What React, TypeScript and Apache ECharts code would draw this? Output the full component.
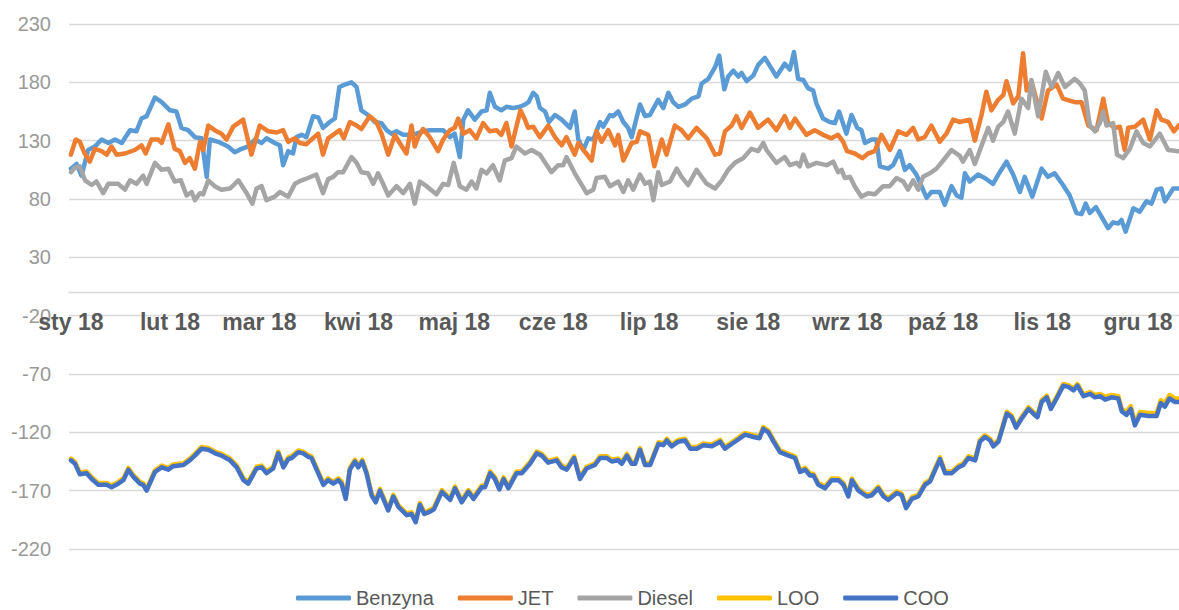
import React, { useEffect, useRef } from "react";
import * as echarts from "echarts";

// x values are days counted from 1 Jan 2018 (day 0)
const monthDays = [0, 31, 59, 90, 120, 151, 181, 212, 243, 273, 304, 334];
const monthLabels = ["sty 18", "lut 18", "mar 18", "kwi 18", "maj 18", "cze 18", "lip 18", "sie 18", "wrz 18", "paź 18", "lis 18", "gru 18"];

const yTicks = [230, 180, 130, 80, 30, -20, -70, -120, -170, -220];

const benzyna: [number, number][] = [
  [0,106],[1.8,110],[3.3,100],[5.4,122],[7.5,125],[9.6,131],[11.7,128],[13.8,131],[15.9,128],[18.5,139],[20.5,138],[22.1,149],[23.7,151],[26.3,167],[28.4,163],[31,156],[33,155],[34.6,141],[36.7,139],[38.8,133],[40.9,132],[42.5,99],[43.5,131],[46.1,129],[49.2,125],[51.3,120],[53.4,123],[55.5,125],[57.6,131],[59.7,128],[61.2,132],[63.8,128],[65.4,126],[66.4,109],[68,121],[69.5,119],[70.6,133],[72.2,135],[73.7,133],[75.8,151],[77.4,150],[78.9,141],[81,146],[82.6,149],[84,176],[85.7,178],[87.8,180],[89.4,176],[90.9,156],[93,152],[95.1,146],[97.2,145],[98.8,139],[100.3,136],[101.9,138],[104,135],[106.1,135],[108.1,136],[110.2,138],[112.3,139],[114.4,139],[116.5,139],[118.6,133],[120.1,136],[121.7,116],[122.8,148],[124.3,156],[126.4,148],[128.5,155],[130.1,156],[131.1,171],[132.7,159],[134.7,156],[136.3,159],[138.4,158],[140.5,159],[142.1,161],[143.2,163],[144.7,171],[145.8,168],[146.8,158],[148.4,155],[149.6,146],[151.5,152],[153.6,148],[156.2,141],[157.7,155],[158.8,131],[160.4,122],[161.9,132],[163.5,131],[165.6,146],[166.6,142],[168.7,152],[169.7,151],[171.3,155],[172.9,146],[174.4,141],[175.5,133],[178.1,161],[179.7,151],[181.2,152],[183.8,165],[185.4,158],[187,171],[188.5,163],[190.1,159],[192.2,161],[194.3,166],[196.4,168],[197.4,179],[199.5,183],[201.6,193],[202.9,203],[204.5,174],[205.7,185],[207.3,190],[208.9,185],[209.9,188],[211.5,181],[213.6,186],[215.1,195],[217.2,201],[220.8,185],[223.4,196],[225,191],[226.3,206],[227.6,183],[229.2,182],[230.7,175],[232.3,173],[233.3,162],[235.4,149],[237.5,146],[239.1,145],[240.4,155],[242.7,136],[244.3,152],[246.1,141],[247.4,139],[248.5,128],[250.6,131],[252.1,131],[253.2,108],[255.8,106],[257.3,109],[259.4,121],[261,105],[262.5,109],[264.6,101],[266.2,91],[267.8,81],[269.3,86],[271.9,86],[273.5,75],[275.6,91],[277.2,83],[278.7,81],[279.8,102],[281.3,95],[283.9,101],[286,98],[288.6,93],[290.7,103],[292.8,112],[294.9,101],[297,86],[298.5,99],[300.9,82],[303.8,106],[305.8,99],[307.9,102],[310.5,92],[312.6,83],[314.7,68],[316.3,67],[317.6,76],[318.9,68],[320.8,73],[322.5,65],[324.6,55],[326.2,60],[327.8,59],[328.8,62],[330.1,52],[332.5,72],[334.5,69],[336.6,78],[338.2,76],[339.8,88],[341.3,89],[342.4,78],[345,89],[346.7,89]
];

const jet: [number, number][] = [
  [0,118],[1.5,131],[2.8,129],[4.3,119],[5.9,112],[7.5,123],[9.6,121],[11.2,118],[12.7,125],[14.3,118],[16.9,119],[20,122],[22.1,126],[23.4,119],[25.2,131],[27.3,131],[28.4,128],[30.5,144],[32.5,123],[34.1,121],[35.7,111],[37.2,115],[38.8,106],[40.4,129],[41.4,122],[43,143],[45,139],[47.1,136],[48.7,131],[50.8,142],[53.9,148],[56.5,118],[59.1,143],[61.8,138],[64.4,137],[66.4,139],[68,129],[70.1,132],[71.6,128],[73.7,127],[75.3,131],[77.4,136],[78.9,118],[80.5,132],[82.6,136],[84.1,139],[85.4,132],[87.3,146],[89.4,143],[90.9,140],[93.5,151],[95.6,146],[97.2,136],[99.3,118],[101.4,135],[102.9,128],[105,119],[106.6,143],[107.6,125],[108.7,133],[110.2,140],[112.3,133],[114.9,121],[116.5,131],[118.6,139],[120.1,141],[121.2,149],[122.8,136],[124.8,139],[126.9,132],[129,145],[131.1,138],[133.2,139],[134.7,135],[136.3,145],[137.9,125],[139.4,142],[140.7,156],[142.1,148],[143.1,141],[144.7,142],[146.8,133],[149.4,143],[151.5,133],[153.6,126],[155.1,133],[157.7,118],[158.8,128],[160.4,122],[163,113],[164.5,138],[166.1,129],[168.2,139],[170.3,126],[171.3,135],[172.9,113],[175.5,128],[177.1,129],[178.1,138],[180.7,135],[182.6,108],[184.9,131],[186.4,118],[189,143],[191.1,139],[193.2,132],[195.8,141],[199,132],[201.6,118],[203.1,119],[204.7,138],[206.8,143],[208.3,151],[209.9,141],[212.5,154],[215.1,141],[217.2,146],[218.2,148],[220.8,139],[223.4,151],[225,141],[226.6,149],[228.1,143],[230.2,135],[232.8,139],[235.4,135],[238,132],[240.1,135],[241.7,129],[242.9,121],[245.3,119],[247.7,115],[249.5,119],[251.6,121],[253.7,135],[256.3,122],[258.9,138],[261.5,135],[263.6,141],[265.2,131],[267.2,133],[269.3,143],[271.9,129],[274,136],[276.1,148],[278.2,146],[281.3,148],[282.9,130],[285,152],[286.5,172],[288.1,156],[290.2,165],[291.8,169],[292.8,181],[294.9,162],[296.5,168],[298,205],[299.1,173],[300.6,181],[303.8,149],[305.8,173],[308.5,178],[310.5,166],[314.2,163],[316.3,163],[318.4,143],[321,139],[323.1,166],[324.6,145],[326.7,141],[328.3,142],[329.8,122],[330.9,141],[333,142],[335.6,148],[337.7,131],[339.8,156],[341.3,148],[343.4,146],[345.2,138],[346.7,143]
];

const diesel: [number, number][] = [
  [0,103],[1.3,107],[2.8,108],[4.4,96],[6.5,92],[8,95],[10.1,85],[11.7,93],[14.8,93],[16.9,88],[18.5,96],[20.5,93],[22.6,100],[23.7,93],[26.3,111],[28.4,105],[30.5,106],[32.5,95],[34.4,96],[36.2,83],[37.8,86],[38.8,79],[40.4,85],[41.4,84],[43,96],[45,91],[47.1,88],[49.8,89],[52.4,96],[55,85],[56.8,76],[58.1,89],[59.7,91],[61.2,79],[63.8,82],[65.4,86],[68,82],[70.1,93],[72.2,96],[74.2,98],[76.8,101],[78.9,85],[80.5,97],[82.1,99],[83.6,103],[85.2,103],[87.8,116],[89.4,111],[90.9,103],[93,102],[94.6,93],[96.1,102],[97.7,93],[99.3,83],[101.9,91],[104,85],[106.1,93],[107.6,76],[109.2,95],[111.3,91],[114.4,84],[116.5,93],[118.1,92],[119.8,111],[121.7,91],[123.8,88],[125.4,95],[126.9,89],[128.5,105],[130.1,102],[132.1,109],[134.2,96],[135.8,113],[137.9,115],[139.4,125],[142.1,119],[144.2,122],[146.8,118],[150.4,103],[152.5,109],[154.1,109],[155.1,116],[157.7,102],[161.4,85],[163.5,88],[164.5,98],[167.1,99],[168.7,91],[171.3,95],[172.9,86],[174.4,96],[176,88],[178.1,101],[179.7,93],[181.2,95],[182.3,79],[183.8,103],[184.9,92],[187.5,95],[189.6,106],[191.1,99],[193.2,92],[195.8,105],[199,93],[201.6,89],[203.7,96],[205.7,105],[207.8,111],[210.4,115],[213,123],[215.1,121],[216.7,128],[217.7,122],[220.8,111],[223.4,116],[225,109],[227.1,111],[228.1,108],[229.2,118],[230.7,108],[233.3,111],[236.5,109],[238.6,112],[240.1,103],[241.2,105],[242.2,98],[243.8,99],[245.3,91],[247.4,82],[249.5,85],[251.6,84],[254.2,91],[256.3,91],[258.4,98],[260.5,95],[262,88],[263.6,96],[265.2,88],[266.7,99],[268.8,102],[270.9,106],[273,113],[275.6,122],[278.2,117],[279.2,112],[281.3,122],[282.9,110],[284.5,122],[287.1,141],[288.6,130],[290.2,142],[291.8,146],[293.3,155],[295.4,136],[297.5,166],[299.6,158],[300.6,182],[302.7,151],[305.1,189],[306.9,176],[309,188],[311.1,176],[314.2,183],[315.8,179],[317.3,173],[318.9,143],[320.5,138],[322,145],[323.1,155],[324.1,143],[326.2,145],[327.4,118],[329.3,115],[331.4,123],[333.5,138],[335.6,128],[337.7,125],[340.8,136],[343.4,122],[346.7,121]
];

const bottomDays = [
  0,1.3,2.8,4.9,6.5,8.6,11.2,12.7,14.8,16.4,
  18,19.5,21.6,22.6,23.7,26.3,28.4,30.5,32,35.2,
  37.2,38.8,40.9,43,45.1,47.2,49.8,51.9,54,55.5,
  58.1,59.7,61.2,63.3,64.9,66.5,68,69.1,71.2,72.7,
  74.3,75.3,76.9,79,80.5,82.1,83.7,84.7,86,87.3,
  88.9,89.9,91.2,92.5,94.1,95.4,96.7,99.3,100.9,102.5,
  105.1,106.6,107.9,109.2,110.6,112.4,113.6,116.1,118.7,120.2,
  122.3,124.4,126,128.6,129.6,131.2,132.7,134.1,135.4,136.9,
  139.5,141.1,143.7,145.8,147.4,149.4,152,153.6,155.2,157.5,
  159.3,161.4,164,165.6,167.7,169.3,171.3,172.4,174,175.5,
  176.6,178.1,179.7,181.3,183.9,185.4,186.5,188,190.1,192.2,
  193.8,195.9,197.9,200.6,203.2,204.7,206.8,208.4,211,213.6,
  215.5,216.7,218.3,219.9,221.9,224.6,226.6,228.2,229.8,231.3,
  232.4,233.9,236,238.1,240.2,241.8,243.3,244.4,246.5,249.1,
  250.6,252.7,254.3,255.8,258.5,260,261.4,263.2,265.2,267.3,
  268.9,272,273.6,275.7,277.8,279.3,280.9,283,284.5,286.1,
  287.7,288.7,290.3,292.9,294.4,295.8,297.6,299.7,301.2,302.5,
  303.8,305.4,306.7,308.5,310.6,312.2,313.8,315,316.9,319,
  320.5,322.1,323.7,325.7,327.8,328.9,330.4,331.7,333,334.6,
  337.2,339.8,341.1,342.4,343.8,345.6,346.8
];

const loo = [
  -142.5,-145.5,-154.5,-153.5,-158.5,-163.5,-163.5,-165.5,-162.5,-159.5,
  -150.5,-156.5,-162.5,-163.5,-168.5,-152.5,-148.5,-150.5,-147.5,-146.5,
  -142.5,-138.5,-132.5,-133.5,-136.5,-138.5,-142.5,-148.5,-159.5,-162.5,
  -149.5,-148.5,-153.5,-149.5,-136.5,-148.5,-141.5,-140.5,-135.5,-136.5,
  -139.5,-140.5,-150.5,-163.5,-159.5,-162.5,-159.5,-162,-175.5,-150.5,
  -143.5,-148.5,-143.5,-153.5,-172.5,-178.5,-168.5,-185.5,-173.5,-182.5,
  -189.5,-188.5,-195.5,-180.5,-188.5,-186.5,-184.5,-169.5,-176.5,-166.5,
  -178.5,-169.5,-175.5,-165.5,-165.5,-153.5,-158.5,-167.5,-158.5,-166.5,
  -153.5,-153.5,-145.5,-136.5,-138.5,-144.5,-142.5,-148.5,-150.5,-140.5,
  -158.5,-149.5,-146.5,-140.5,-140.5,-143.5,-142.5,-145.5,-138.5,-145.5,
  -145.5,-133.5,-146.5,-146.5,-128.5,-129.5,-125.5,-130.5,-126.5,-125.5,
  -132.5,-132.5,-129.5,-130.5,-126.5,-132.5,-128.5,-125.5,-120.5,-122.5,
  -123.5,-115.5,-118.5,-126.5,-135.5,-138.5,-140.5,-152.5,-150.5,-155.5,
  -155.5,-163.5,-166.5,-159.5,-159.5,-163.5,-173.5,-159.5,-168.5,-173.5,
  -172.5,-166.5,-173.5,-176.5,-170.5,-172.5,-183.5,-175.5,-173.5,-163.5,
  -160.5,-141.5,-153.5,-153.5,-148.5,-146.5,-140.5,-142.5,-126.5,-122.5,
  -125.5,-130.5,-126.5,-102.5,-105.5,-114.5,-106.5,-98.5,-102.5,-105.5,
  -92.5,-88.5,-98.5,-89.5,-78.5,-79.5,-82.5,-78.5,-87.5,-85.5,
  -88,-87,-89.5,-88,-89,-100,-102.5,-97.5,-111.5,-102.5,
  -103.5,-103.5,-92.5,-95,-88,-91,-91
];

const coo = [
  -144,-147,-156,-155,-160,-165,-165,-167,-164,-161,
  -152,-158,-164,-165,-170,-154,-150,-152,-149,-148,
  -144,-140,-134,-135,-138,-140,-144,-150,-161,-164,
  -151,-150,-155,-151,-138,-150,-143,-142,-137,-138,
  -141,-142,-152,-165,-161,-164,-161,-164,-177,-152,
  -145,-150,-145,-155,-174,-180,-170,-187,-175,-184,
  -191,-190,-197,-182,-190,-188,-186,-171,-178,-168,
  -180,-171,-177,-167,-167,-155,-160,-169,-160,-168,
  -155,-155,-147,-138,-140,-146,-144,-150,-152,-142,
  -160,-151,-148,-142,-142,-145,-144,-147,-140,-147,
  -147,-135,-148,-148,-130,-131,-127,-132,-128,-127,
  -134,-134,-131,-132,-128,-134,-130,-127,-122,-124,
  -125,-117,-120,-128,-137,-140,-142,-154,-152,-157,
  -157,-165,-168,-161,-161,-165,-175,-161,-170,-175,
  -174,-168,-175,-178,-172,-174,-185,-177,-175,-165,
  -162,-143,-155,-155,-150,-148,-142,-144,-128,-124,
  -127,-132,-128,-104,-107,-116,-108,-100,-104,-107,
  -94,-90,-100,-91,-80,-81,-84,-80,-89,-87,
  -90,-89,-92,-90,-91,-102,-105,-100,-114,-105,
  -106,-106,-95,-98,-91,-94,-94
];

const FONT = "'Liberation Sans', Arial, sans-serif";

export default function App() {
  const ref = useRef<HTMLDivElement>(null);

  useEffect(() => {
    if (!ref.current) return;
    const chart = echarts.init(ref.current, null, { renderer: "svg" });
    const labelMap: Record<number, string> = {};
    monthDays.forEach((d, i) => (labelMap[d] = monthLabels[i]));

    const mkLine = (name: string, color: string, data: any[]) => ({
      name,
      type: "line",
      data,
      symbol: "none",
      showSymbol: false,
      lineStyle: { width: 4.5, color, join: "round", cap: "round" },
      itemStyle: { color },
      emphasis: { disabled: true },
    });

    const gridTop = 24;
    const gridBottom = 549;
    const yMin = -220;
    const yMax = 230;
    // the category axis crosses the value axis at 0 (as in the source chart)
    const zeroOffset = -((gridBottom - gridTop) * (0 - yMin)) / (yMax - yMin);

    chart.setOption({
      animation: false,
      backgroundColor: "#ffffff",
      textStyle: { fontFamily: FONT },
      grid: { left: 69, right: 0, top: gridTop, bottom: 610 - gridBottom, containLabel: false },
      legend: {
        left: 296,
        top: 588,
        padding: 0,
        icon: "roundRect",
        itemWidth: 55,
        itemHeight: 5,
        itemGap: 24,
        textStyle: { fontSize: 20, lineHeight: 20, color: "#595959", fontFamily: FONT },
        data: ["Benzyna", "JET", "Diesel", "LOO", "COO"],
      },
      xAxis: {
        type: "value",
        position: "bottom",
        min: -0.6,
        max: 346.8,
        offset: zeroOffset,
        splitLine: { show: false },
        axisTick: { show: false },
        axisLine: { show: true, onZero: false, lineStyle: { color: "#D9D9D9", width: 1.3 } },
        axisLabel: {
          customValues: monthDays,
          formatter: (v: number) => labelMap[v] ?? "",
          fontSize: 23,
          fontWeight: "bold",
          color: "#595959",
          margin: 18,
          fontFamily: FONT,
        },
      },
      yAxis: {
        type: "value",
        min: yMin,
        max: yMax,
        interval: 50,
        axisLine: { show: false, onZero: false },
        axisTick: { show: false },
        splitLine: { show: true, lineStyle: { color: "#D9D9D9", width: 1.3 } },
        axisLabel: {
          customValues: yTicks,
          fontSize: 20,
          color: "#999999",
          margin: 18,
          fontFamily: FONT,
        },
      },
      series: [
        mkLine("Benzyna", "#5B9BD5", benzyna),
        mkLine("JET", "#ED7D31", jet),
        mkLine("Diesel", "#A5A5A5", diesel),
        mkLine("LOO", "#FFC000", bottomDays.map((d, i) => [d, loo[i]])),
        mkLine("COO", "#4472C4", bottomDays.map((d, i) => [d, coo[i]])),
      ],
    });
    return () => chart.dispose();
  }, []);

  return (
    <div
      ref={ref}
      style={{ position: "fixed", left: 0, top: 0, width: 1179, height: 610, background: "#fff" }}
    />
  );
}
